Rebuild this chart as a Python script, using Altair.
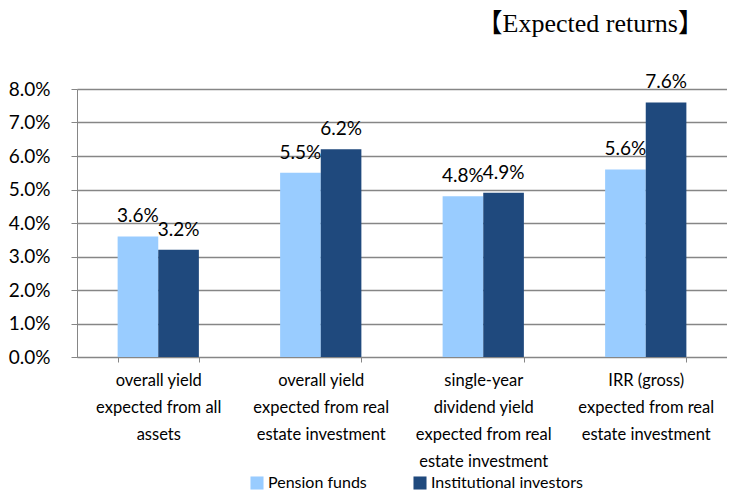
import altair as alt
import pandas as pd

categories = [
    "overall yield|expected from all|assets",
    "overall yield|expected from real|estate investment",
    "single-year|dividend yield|expected from real|estate investment",
    "IRR (gross)|expected from real|estate investment",
]
series = ["Pension funds", "Institutional investors"]
pension = [0.036, 0.055, 0.048, 0.056]
institutional = [0.032, 0.062, 0.049, 0.076]
y_ticks = [0.00, 0.01, 0.02, 0.03, 0.04, 0.05, 0.06, 0.07, 0.08]

rows = []
for i, c in enumerate(categories):
    rows.append({"cat": c, "series": series[0], "value": pension[i]})
    rows.append({"cat": c, "series": series[1], "value": institutional[i]})
df = pd.DataFrame(rows)

FONT = "Lato"

x = alt.X("cat:N", sort=categories, title=None,
          scale=alt.Scale(paddingInner=0.5, paddingOuter=0.25),
          axis=alt.Axis(labelAngle=0, labelExpr="split(datum.label, '|')",
                        labelFontSize=16.5, labelFont=FONT, labelColor="#000",
                        labelLineHeight=27, labelPadding=10, tickSize=5,
                        tickColor="#868686", domainColor="#868686",
                        tickBand="extent", labelLimit=200))
y = alt.Y("value:Q", title=None,
          scale=alt.Scale(domain=[0, 0.08]),
          axis=alt.Axis(format=".1%", values=y_ticks, labelOverlap=False,
                        labelFontSize=19, labelFont=FONT, labelColor="#000",
                        labelPadding=21, tickSize=6, tickColor="#868686",
                        domainColor="#868686", grid=True, gridColor="#868686",
                        gridWidth=1.5))
color = alt.Color("series:N", sort=series, title=None,
                  scale=alt.Scale(domain=series, range=["#99CCFF", "#1F497D"]),
                  legend=alt.Legend(orient="none", direction="horizontal",
                                    legendX=172, legendY=386,
                                    symbolType="square", symbolSize=170,
                                    symbolStrokeWidth=0, labelFontSize=16,
                                    labelFont=FONT, labelColor="#000",
                                    columnPadding=45, labelOffset=3))

base = alt.Chart(df).encode(
    x=x,
    xOffset=alt.XOffset("series:N", sort=series),
    y=y,
)

bars = base.mark_bar().encode(color=color)
labels = base.mark_text(baseline="bottom", dy=-10, fontSize=19, font=FONT,
                        color="#000").encode(text=alt.Text("value:Q", format=".1%"))

chart = (bars + labels).properties(
    width=650, height=268,
    title=alt.TitleParams("【Expected returns】", anchor="end", fontSize=26,
                          font="Liberation Serif, Noto Sans CJK JP",
                          fontWeight="normal", color="#000", offset=36, dx=-23),
).configure_view(stroke=None).configure(padding={"left": 0, "top": 3, "right": 0, "bottom": 0})

chart.save("out.html", embed_options={"renderer": "svg", "actions": False})
